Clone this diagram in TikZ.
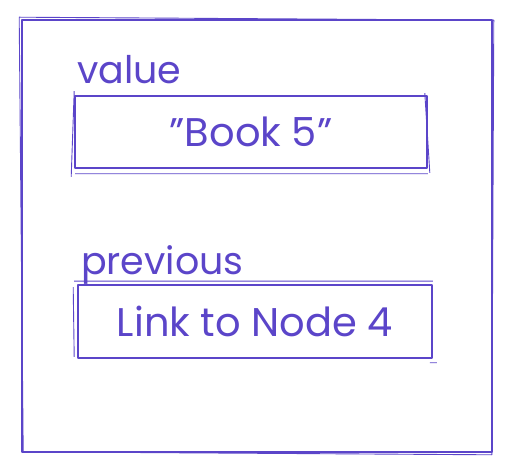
\documentclass[tikz,border=0pt]{standalone}
\usepackage{fontspec}
\setmainfont{Poppins}
\usetikzlibrary{positioning}
\definecolor{ink}{HTML}{5B45C9}

\begin{document}
\begin{tikzpicture}[x=1pt, y=1pt, ink, line width=1.6pt, line join=round,
        card/.style = {draw, minimum width=470pt, minimum height=432pt, inner sep=0pt},
        fieldbox/.style = {draw, minimum width=352pt, minimum height=72pt, inner sep=0pt, font=\fontsize{40}{40}\selectfont},
        fieldname/.style = {inner sep=0pt, font=\fontsize{38}{38}\selectfont},
        sketch/.style = {line width=0.9pt}]
        \useasboundingbox (0,0) rectangle (508,468);
        \node[card] (card) at (257,232) {};
        \node[fieldbox] (valuebox) at (251,336) {"Book 5"};
        \node[fieldbox, minimum width=354pt, minimum height=73pt] (prevbox) at (255,146.5) {Link to Node 4};
        \node[fieldname, anchor=base west] (valuename) at ([xshift=2pt, yshift=12pt]valuebox.north west) {value};
        \node[fieldname, anchor=base west] (prevname) at ([xshift=3pt, yshift=10pt]prevbox.north west) {previous};
        % second pass of the hand drawn outlines
        \draw[sketch] ([xshift=-2pt, yshift=2pt]card.north west) -- ([xshift=1pt, yshift=-1pt]card.north east)
            -- ([xshift=-1pt, yshift=-2pt]card.south east) -- ([xshift=2pt, yshift=1pt]card.south west) -- cycle;
        \draw[sketch] ([yshift=4pt]valuebox.north west) -- ([xshift=-3pt, yshift=-8pt]valuebox.south west)
            ([xshift=1pt, yshift=-5pt]valuebox.south west) -- ([yshift=-5pt]valuebox.south east)
            ([xshift=-3pt, yshift=2pt]valuebox.north east) -- ([xshift=2pt, yshift=-4pt]valuebox.south east);
        \draw[sketch] ([xshift=-4pt, yshift=-3pt]prevbox.north west) -- ([xshift=-3pt, yshift=2pt]prevbox.south west)
            ([xshift=-3pt, yshift=3pt]prevbox.north west) -- ([yshift=3pt]prevbox.north east)
            ([xshift=-3pt, yshift=-4pt]prevbox.south east) -- ([xshift=4pt, yshift=-4pt]prevbox.south east);
\end{tikzpicture}
\end{document}
